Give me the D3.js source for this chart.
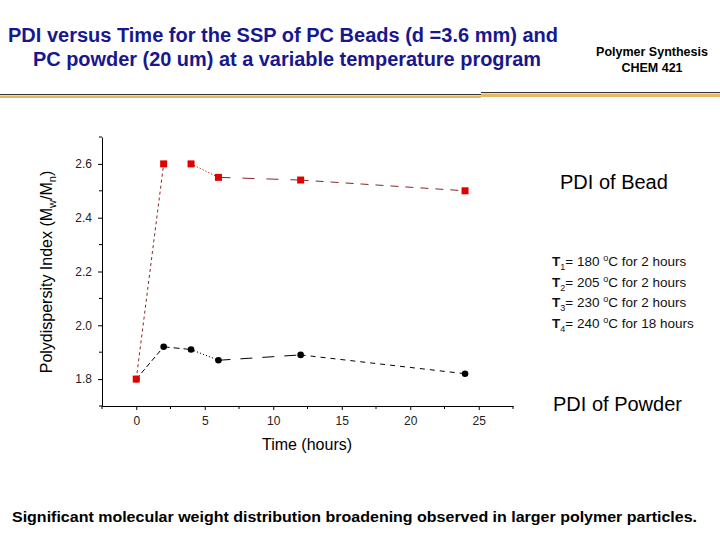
<!DOCTYPE html>
<html><head><meta charset="utf-8">
<script src="https://cdn.jsdelivr.net/npm/d3@7"></script>
<style>body{margin:0;background:#fff}svg{display:block}text{font-family:Arial,"Liberation Sans",sans-serif}</style>
</head><body><svg id="c" width="720" height="540"></svg>
<script>
const times = [0, 2, 4, 6, 12, 24];
const beadPDI = [1.80, 2.60, 2.60, 2.55, 2.54, 2.50];
const powderPDI = [1.80, 1.92, 1.91, 1.87, 1.89, 1.82];
const xTicks = [0, 5, 10, 15, 20, 25];
const yTicks = [1.8, 2.0, 2.2, 2.4, 2.6];
const tempSteps = [["1", "180", "2"], ["2", "205", "2"], ["3", "230", "2"], ["4", "240", "18"]];

const svg = d3.select("#c");
const x = d3.scaleLinear().domain([-2.5, 27.5]).range([102, 513]);
const y = d3.scaleLinear().domain([1.7, 2.7]).range([406, 137]);

// Title
svg.append("text").attr("x", 8).attr("y", 42).attr("textLength", 550).attr("lengthAdjust", "spacingAndGlyphs")
  .attr("fill", "#17178f").attr("font-weight", "bold").attr("font-size", 20)
  .text("PDI versus Time for the SSP of PC Beads (d =3.6 mm) and");
svg.append("text").attr("x", 33).attr("y", 66).attr("textLength", 508).attr("lengthAdjust", "spacingAndGlyphs")
  .attr("fill", "#17178f").attr("font-weight", "bold").attr("font-size", 20)
  .text("PC powder (20 um) at a variable temperature program");
svg.append("text").attr("x", 652).attr("y", 56).attr("text-anchor", "middle").attr("font-weight", "bold").attr("font-size", 12.5).text("Polymer Synthesis");
svg.append("text").attr("x", 652).attr("y", 72).attr("text-anchor", "middle").attr("font-weight", "bold").attr("font-size", 12.5).text("CHEM 421");

// header rules
svg.append("rect").attr("x", 0).attr("y", 95.5).attr("width", 481).attr("height", 2.5).attr("fill", "#e6b865");
svg.append("line").attr("x1", 0).attr("x2", 481).attr("y1", 94.5).attr("y2", 94.5).attr("stroke", "#333").attr("stroke-width", 1);
svg.append("rect").attr("x", 481).attr("y", 93.5).attr("width", 239).attr("height", 3.5).attr("fill", "#e6b865");
svg.append("line").attr("x1", 481).attr("x2", 720).attr("y1", 92.5).attr("y2", 92.5).attr("stroke", "#333").attr("stroke-width", 1);

// Axes
const xAxis = d3.axisBottom(x).tickValues(xTicks).tickSize(4).tickSizeOuter(0).tickPadding(6);
const gx = svg.append("g").attr("transform", "translate(0,406)").call(xAxis);
const yAxis = d3.axisLeft(y).tickValues(yTicks).tickSize(4).tickSizeOuter(0).tickPadding(6).tickFormat(d3.format(".1f"));
const gy = svg.append("g").attr("transform", "translate(102,0)").call(yAxis);
[gx, gy].forEach(g => {
  g.select(".domain").attr("stroke", "#000");
  g.selectAll(".tick line").attr("stroke", "#000");
  g.selectAll(".tick text").attr("font-size", 12).attr("fill", "#222").attr("font-family", "Arial, 'Liberation Sans', sans-serif");
});
// minor ticks
const xMinor = d3.range(-2.5, 28, 5);
gx.selectAll(".minor").data(xMinor).enter().append("line").attr("x1", d => x(d)).attr("x2", d => x(d)).attr("y1", 0).attr("y2", 3).attr("stroke", "#000");
const yMinor = d3.range(1.7, 2.75, 0.2);
gy.selectAll(".minor").data(yMinor).enter().append("line").attr("y1", d => y(d)).attr("y2", d => y(d)).attr("x1", 0).attr("x2", -3).attr("stroke", "#000");

// axis titles
svg.append("text").attr("x", 307).attr("y", 450).attr("text-anchor", "middle").attr("font-size", 16).text("Time (hours)");
const yl = svg.append("text").attr("transform", "translate(52,272) rotate(-90)").attr("text-anchor", "middle").attr("font-size", 16);
yl.append("tspan").text("Polydispersity Index (M");
yl.append("tspan").attr("font-size", 11).attr("dy", 4).text("w");
yl.append("tspan").attr("dy", -4).text("/M");
yl.append("tspan").attr("font-size", 11).attr("dy", 4).text("n");
yl.append("tspan").attr("dy", -4).text(")");

// line segments with varying dash styles
const beadDash = ["3,3", "0,40", "1.2,2", "12,12", "8,7"];
const powderDash = ["5,3", "6,4", "1.2,2", "12,10", "5,5"];
function segs(vals, dashes, color, cls) {
  const data = d3.range(vals.length - 1).map(i => ({i}));
  svg.selectAll("." + cls).data(data).enter().append("line").attr("class", cls)
    .attr("x1", d => x(times[d.i])).attr("y1", d => y(vals[d.i]))
    .attr("x2", d => x(times[d.i + 1])).attr("y2", d => y(vals[d.i + 1]))
    .attr("stroke", color).attr("stroke-width", 1).attr("stroke-dasharray", d => dashes[d.i]);
}
segs(powderPDI, powderDash, "#000", "pseg");
segs(beadPDI, beadDash, "#8a2525", "bseg");

svg.selectAll(".pt").data(times).enter().append("circle").attr("class", "pt")
  .attr("cx", d => x(d)).attr("cy", (d, i) => y(powderPDI[i])).attr("r", 3.3).attr("fill", "#000");
svg.selectAll(".sq").data(times).enter().append("rect").attr("class", "sq")
  .attr("x", d => x(d) - 3.5).attr("y", (d, i) => y(beadPDI[i]) - 3.5).attr("width", 7).attr("height", 7).attr("fill", "#e00000");

// right annotations
svg.append("text").attr("x", 560).attr("y", 189).attr("font-size", 20).text("PDI of Bead");
svg.append("text").attr("x", 553).attr("y", 411).attr("font-size", 20).text("PDI of Powder");
tempSteps.forEach((t, i) => {
  const yy = 266 + i * 20.5;
  const tx = svg.append("text").attr("x", 552).attr("y", yy).attr("font-size", 13.5).attr("fill", "#111");
  tx.append("tspan").attr("font-weight", "bold").text("T");
  tx.append("tspan").attr("font-size", 9).attr("dy", 4).text(t[0]);
  tx.append("tspan").attr("dy", -4).text("= " + t[1] + " ");
  tx.append("tspan").attr("font-size", 9).attr("dy", -5).text("o");
  tx.append("tspan").attr("dy", 5).text("C for " + t[2] + " hours");
});

// footer
svg.append("text").attr("x", 12).attr("y", 522).attr("textLength", 685).attr("lengthAdjust", "spacingAndGlyphs")
  .attr("font-weight", "bold").attr("font-size", 15.5)
  .text("Significant molecular weight distribution broadening observed in larger polymer particles.");
</script></body></html>
